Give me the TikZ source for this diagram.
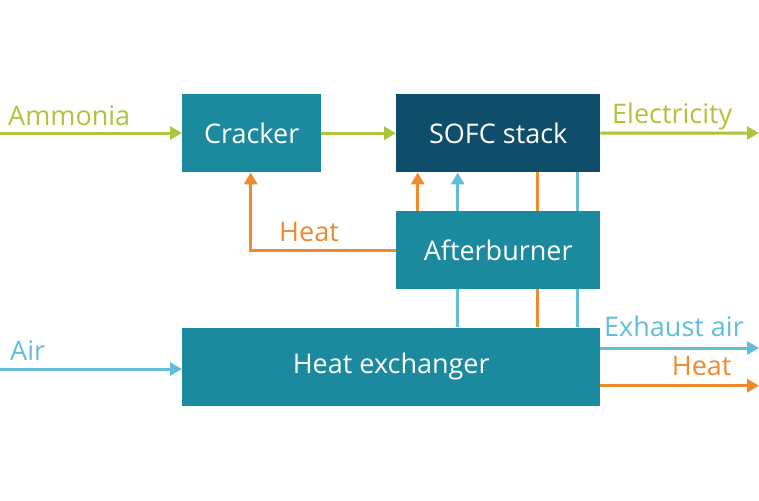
\documentclass[tikz,border=0pt]{standalone}
\usepackage{fontspec}
\setmainfont{Open Sans}
\usetikzlibrary{arrows.meta}
\definecolor{tealbox}{HTML}{1B8A9F}
\definecolor{darkbox}{HTML}{0F4E6B}
\definecolor{grn}{HTML}{A9C63C}
\definecolor{org}{HTML}{EE8B2F}
\definecolor{blu}{HTML}{62BED8}
\begin{document}
\begin{tikzpicture}[x=1pt,y=-1pt,
  font=\fontsize{27}{31}\selectfont,
  box/.style={fill=tealbox, text=white, inner sep=0pt, minimum height=78pt, anchor=north west},
  flow/.style={line width=3pt, -{Triangle[length=12pt,width=13pt]}},
  plain/.style={line width=3pt},
  lbl/.style={inner sep=0pt, anchor=base west}]
\useasboundingbox (0,0) rectangle (759,500);
% boxes
\node[box, minimum width=139pt] (cr) at (182,94) {Cracker};
\node[box, fill=darkbox, minimum width=204pt] (sofc) at (396,94) {SOFC stack};
\node[box, minimum width=204pt] (ab) at (396,211) {Afterburner};
\node[box, minimum width=418pt, minimum height=78.5pt] (hx) at (182,327.3) {Heat exchanger};
% coordinates
\coordinate (amm) at (0,133);
\coordinate (elec) at (759,133);
\coordinate (air) at (0,369);
\coordinate (exh) at (759,348);
\coordinate (hout) at (759,385.7);
\coordinate (xh) at (250.7,0);
\coordinate (yh) at (0,250.7);
\coordinate (c1) at (417.7,0);
\coordinate (c2) at (457.7,0);
\coordinate (c3) at (537.3,0);
\coordinate (c4) at (577.7,0);
% green flows
\draw[flow, grn] (amm) -- (amm -| cr.west);
\draw[flow, grn] (cr.east) -- (sofc.west);
\draw[flow, grn] (sofc.east) -- (elec);
\node[lbl, text=grn] (lamm) at (8,125) {Ammonia};
\node[lbl, text=grn] (lel) at (612,123.5) {Electricity};
% heat to cracker
\draw[flow, org] (ab.west |- yh) -| (cr.south -| xh);
\node[lbl, text=org] (lh1) at (279,241.7) {Heat};
% afterburner to SOFC
\draw[flow, org] (ab.north -| c1) -- (sofc.south -| c1);
\draw[flow, blu] (ab.north -| c2) -- (sofc.south -| c2);
\draw[plain, org] (sofc.south -| c3) -- (ab.north -| c3);
\draw[plain, blu] (sofc.south -| c4) -- (ab.north -| c4);
% afterburner to heat exchanger
\draw[plain, blu] (ab.south -| c2) -- (hx.north -| c2);
\draw[plain, org] (ab.south -| c3) -- (hx.north -| c3);
\draw[plain, blu] (ab.south -| c4) -- (hx.north -| c4);
% air and outputs
\draw[flow, blu] (air) -- (air -| hx.west);
\node[lbl, text=blu] (lair) at (10,360.7) {Air};
\draw[flow, blu] (hx.east |- exh) -- (exh);
\node[lbl, text=blu] (lexh) at (604,336) {Exhaust air};
\draw[flow, org] (hx.east |- hout) -- (hout);
\node[lbl, text=org, anchor=base east] (lh2) at (731.7,375) {Heat};
\end{tikzpicture}
\end{document}
